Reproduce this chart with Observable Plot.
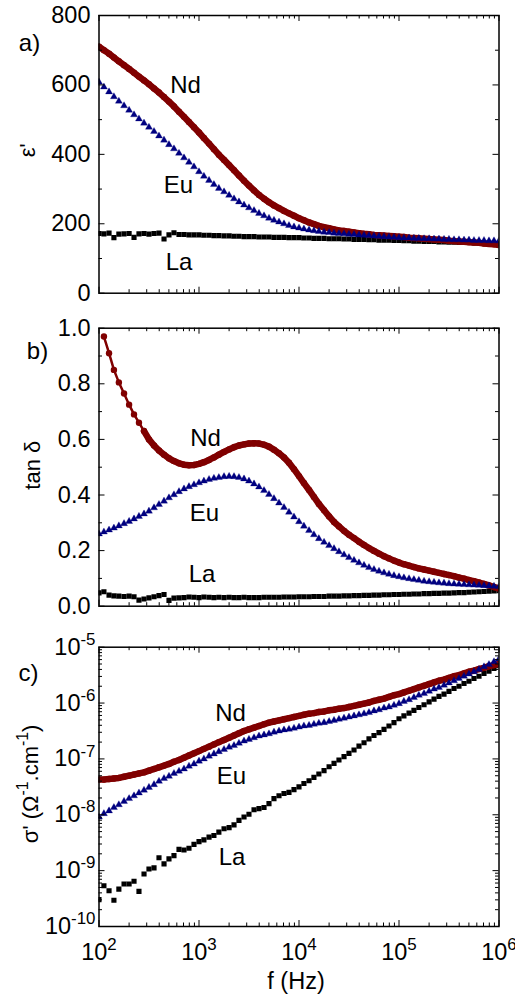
<!DOCTYPE html>
<html><head><meta charset="utf-8">
<script src="https://cdn.jsdelivr.net/npm/d3@7"></script>
<script src="https://cdn.jsdelivr.net/npm/@observablehq/plot@0.6"></script>
<style>
html,body{margin:0;padding:0;background:#fff;}
#chart{position:relative;width:515px;height:1003px;}
#chart svg{position:absolute;left:0;overflow:visible;}
</style></head><body><div id="chart"></div>
<script>
// ---------- data ----------
const freq = [
 100,112,126,141,158,178,200,224,251,282,316,355,398,447,501,562,631,708,794,891,
 1000,1120,1260,1410,1580,1780,2000,2240,2510,2820,3160,3550,3980,4470,5010,5620,6310,7080,7940,8910,
 1e4,1.12e4,1.26e4,1.41e4,1.58e4,1.78e4,2e4,2.24e4,2.51e4,2.82e4,3.16e4,3.55e4,3.98e4,4.47e4,5.01e4,5.62e4,6.31e4,7.08e4,7.94e4,8.91e4,
 1e5,1.12e5,1.26e5,1.41e5,1.58e5,1.78e5,2e5,2.24e5,2.51e5,2.82e5,3.16e5,3.55e5,3.98e5,4.47e5,5.01e5,5.62e5,6.31e5,7.08e5,7.94e5,8.91e5,
 1e6];

// a) epsilon'
const epsNd = [710,700,690,679,668,657,646,635,624,613,
 602,590,578,565,552,538,523,508,493,478,
 463,447,431,415,399,384,369,354,339,324,
 310,296,283,272,262,253,245,237,230,223,
 216,210,204,199,194,190,187,184,181,179,
 177,175,173,171,170,168,167,166,165,164,
 163,162,160,159,158,157,156,155,154,153,
 151,150,149,148,147,146,145,143,142,141,139];
const epsEu = [608,594,580,566,553,540,527,514,502,490,
 478,466,453,441,428,416,403,390,377,364,
 350,337,325,313,302,292,282,272,263,254,
 246,238,230,223,216,210,205,200,195,191,
 188,185,182,180,178,176,175,173,172,171,
 170,169,168,167,166,165,164,163,162,161,
 160,159,159,158,158,157,157,156,156,155,
 155,154,154,153,153,152,152,152,151,151,151];
const epsLa = [172,171,173,160,170,171,172,161,171,172,
 170,172,173,156,168,174,169,169,168,168,
 168,167,167,166,166,165,165,164,164,163,
 163,163,162,162,162,161,161,161,160,160,
 160,159,159,158,158,158,157,157,157,156,
 156,155,155,155,154,154,153,153,153,152,
 152,151,151,150,150,149,149,149,148,148,
 147,147,146,146,146,145,145,144,144,143,143];

// b) tan delta
const tanNd = [1.02,0.97,0.91,0.85,0.805,0.765,0.725,0.69,0.66,0.63,
 0.60,0.578,0.56,0.545,0.532,0.522,0.514,0.509,0.507,0.508,
 0.512,0.518,0.526,0.535,0.545,0.555,0.564,0.572,0.578,0.582,
 0.585,0.586,0.585,0.581,0.574,0.563,0.55,0.535,0.516,0.493,
 0.468,0.443,0.418,0.393,0.368,0.345,0.323,0.303,0.287,0.271,
 0.257,0.245,0.232,0.220,0.209,0.199,0.189,0.180,0.172,0.164,
 0.157,0.151,0.146,0.141,0.136,0.132,0.128,0.124,0.120,0.116,
 0.112,0.108,0.103,0.099,0.094,0.090,0.085,0.080,0.075,0.069,0.064];
const tanEu = [0.260,0.267,0.274,0.281,0.289,0.297,0.305,0.314,0.323,0.332,
 0.342,0.354,0.366,0.378,0.390,0.401,0.412,0.422,0.430,0.437,
 0.444,0.450,0.456,0.460,0.463,0.466,0.467,0.466,0.463,0.458,
 0.450,0.440,0.429,0.416,0.402,0.387,0.371,0.355,0.338,0.321,
 0.304,0.288,0.272,0.257,0.243,0.230,0.218,0.207,0.196,0.185,
 0.175,0.165,0.156,0.147,0.139,0.132,0.126,0.120,0.115,0.110,
 0.106,0.102,0.099,0.096,0.093,0.090,0.088,0.086,0.084,0.083,
 0.081,0.080,0.079,0.078,0.077,0.076,0.075,0.074,0.073,0.072,0.071];
const tanLa = [0.048,0.052,0.040,0.037,0.036,0.035,0.036,0.034,0.022,0.026,
 0.030,0.034,0.038,0.042,0.021,0.029,0.030,0.031,0.033,0.032,
 0.031,0.033,0.032,0.031,0.032,0.031,0.032,0.031,0.031,0.032,
 0.031,0.031,0.031,0.032,0.032,0.032,0.032,0.033,0.033,0.033,
 0.034,0.034,0.034,0.035,0.035,0.035,0.036,0.036,0.036,0.037,
 0.037,0.038,0.038,0.039,0.039,0.040,0.040,0.041,0.041,0.042,
 0.042,0.043,0.043,0.044,0.044,0.045,0.045,0.046,0.046,0.047,
 0.047,0.048,0.049,0.049,0.050,0.051,0.052,0.053,0.054,0.055,0.056];

// c) sigma' (log10 of Ohm^-1 cm^-1)
const sigNdLog = [-7.37,-7.37,-7.36,-7.35,-7.34,-7.32,-7.30,-7.28,-7.26,-7.24,
 -7.21,-7.18,-7.15,-7.12,-7.09,-7.05,-7.02,-6.98,-6.94,-6.90,
 -6.86,-6.82,-6.78,-6.74,-6.70,-6.66,-6.62,-6.58,-6.54,-6.50,
 -6.47,-6.44,-6.41,-6.38,-6.35,-6.33,-6.31,-6.29,-6.27,-6.25,
 -6.23,-6.21,-6.19,-6.18,-6.16,-6.15,-6.13,-6.12,-6.10,-6.09,
 -6.07,-6.05,-6.03,-6.01,-5.99,-5.96,-5.94,-5.92,-5.89,-5.86,
 -5.84,-5.81,-5.78,-5.75,-5.72,-5.69,-5.66,-5.63,-5.60,-5.58,
 -5.55,-5.52,-5.50,-5.47,-5.44,-5.42,-5.39,-5.37,-5.34,-5.32,-5.30];
const sigEuLog = [-8.04,-7.98,-7.93,-7.87,-7.82,-7.76,-7.71,-7.66,-7.61,-7.56,
 -7.51,-7.46,-7.40,-7.35,-7.31,-7.26,-7.22,-7.18,-7.13,-7.09,
 -7.04,-7.00,-6.95,-6.91,-6.87,-6.83,-6.79,-6.76,-6.72,-6.68,
 -6.65,-6.62,-6.59,-6.57,-6.55,-6.52,-6.50,-6.48,-6.47,-6.45,
 -6.43,-6.41,-6.40,-6.38,-6.36,-6.35,-6.33,-6.31,-6.29,-6.27,
 -6.25,-6.23,-6.21,-6.19,-6.17,-6.14,-6.12,-6.09,-6.07,-6.04,
 -6.01,-5.97,-5.94,-5.90,-5.86,-5.83,-5.79,-5.75,-5.72,-5.68,
 -5.64,-5.60,-5.56,-5.52,-5.48,-5.44,-5.40,-5.35,-5.31,-5.26,-5.21];
const sigLaLog = [-9.52,-9.27,-9.36,-9.53,-9.33,-9.24,-9.24,-9.19,-9.37,-9.06,
 -8.97,-8.95,-8.77,-8.88,-8.79,-8.73,-8.62,-8.63,-8.60,-8.53,
 -8.48,-8.45,-8.40,-8.37,-8.31,-8.25,-8.23,-8.18,-8.10,-8.04,
 -7.99,-7.91,-7.89,-7.87,-7.80,-7.71,-7.66,-7.62,-7.60,-7.55,
 -7.50,-7.44,-7.39,-7.33,-7.27,-7.21,-7.14,-7.08,-7.02,-6.96,
 -6.90,-6.84,-6.77,-6.71,-6.64,-6.58,-6.53,-6.47,-6.41,-6.35,
 -6.28,-6.23,-6.18,-6.13,-6.08,-6.03,-5.98,-5.93,-5.88,-5.84,
 -5.79,-5.74,-5.70,-5.65,-5.61,-5.56,-5.52,-5.47,-5.43,-5.38,-5.33];

// ticks and labels
const xMajor = [1e2, 1e3, 1e4, 1e5, 1e6];
const xLabels = ["10^{2}", "10^{3}", "10^{4}", "10^{5}", "10^{6}"];
const mantissas = [2, 3, 4, 5, 6, 7, 8, 9];
const xMinor = [1e2, 1e3, 1e4, 1e5].flatMap(d => mantissas.map(m => m * d));
const yMajorA = [0, 200, 400, 600, 800];
const yMinorA = [100, 300, 500, 700];
const yMajorB = [0, 0.2, 0.4, 0.6, 0.8, 1.0];
const yLabelsB = ["0.0", "0.2", "0.4", "0.6", "0.8", "1.0"];
const yMinorB = [0.1, 0.3, 0.5, 0.7, 0.9];
const yMajorC = [1e-10, 1e-9, 1e-8, 1e-7, 1e-6, 1e-5];
const yLabelsC = ["10^{-10}", "10^{-9}", "10^{-8}", "10^{-7}", "10^{-6}", "10^{-5}"];
const yMinorC = [1e-10, 1e-9, 1e-8, 1e-7, 1e-6].flatMap(d => mantissas.map(m => m * d));

const annA = [{t: "Nd", f: 733, v: 599}, {t: "Eu", f: 624, v: 312}, {t: "La", f: 631, v: 90}];
const annB = [{t: "Nd", f: 1161, v: 0.605}, {t: "Eu", f: 1135, v: 0.335}, {t: "La", f: 1072, v: 0.114}];
const annC = [{t: "Nd", f: 2065, v: 6.6e-7}, {t: "Eu", f: 2113, v: 4.8e-8}, {t: "La", f: 2138, v: 1.7e-9}];

// ---------- drawing ----------
const ND = "#800000", EU = "#000080", LA = "#000000";
const FONT = '"Liberation Sans", Arial, Helvetica, sans-serif';
const W = 515, ML = 98.5, MR = 16.5, PW = W - ML - MR;
const rows = (ys, tf = v => v) => freq.map((f, i) => ({f, v: tf(ys[i]), i}));
const lab = (ticks, labels) => d => labels[ticks.indexOf(d)];

function frameTicks(plotH, yMajor, yMinor) {
  const maj = 6, mnr = 3.5;
  return [
    Plot.ruleX(xMajor, {insetTop: plotH - maj}),
    Plot.ruleX(xMajor, {insetBottom: plotH - maj}),
    Plot.ruleX(xMinor, {insetTop: plotH - mnr}),
    Plot.ruleX(xMinor, {insetBottom: plotH - mnr}),
    Plot.ruleY(yMajor, {insetRight: PW - maj}),
    Plot.ruleY(yMajor, {insetLeft: PW - maj}),
    Plot.ruleY(yMinor, {insetRight: PW - mnr}),
    Plot.ruleY(yMinor, {insetLeft: PW - mnr}),
    Plot.frame({stroke: "black", strokeWidth: 1.5})
  ];
}
function series(nd, eu, la, ndLineFrom = 0) {
  return [
    Plot.dot(la, {x: "f", y: "v", symbol: "square", r: 2.9, fill: LA, clip: true}),
    Plot.line(nd.filter(d => d.i >= 1 && d.i <= ndLineFrom), {x: "f", y: "v", stroke: ND, strokeWidth: 2.5, clip: true}),
    Plot.line(nd.filter(d => d.i >= ndLineFrom), {x: "f", y: "v", stroke: ND, strokeWidth: 6.5, clip: true}),
    Plot.dot(nd, {x: "f", y: "v", r: 3.2, fill: ND, clip: true}),
    Plot.dot(eu, {x: "f", y: "v", symbol: "triangle", r: 2.6, fill: EU, stroke: EU, strokeOpacity: 0.35, strokeWidth: 0.8, clip: true})
  ];
}
const annText = (ann) => Plot.text(ann, {x: "f", y: "v", text: "t", fontSize: 24, fill: "black"});

const style = {fontFamily: FONT, fontSize: "22px", background: "transparent", overflow: "visible", color: "black"};
const chart = document.getElementById("chart");

function place(svg, top) { svg.style.top = top + "px"; chart.appendChild(svg); supify(svg); }

function supify(svg) {
  const ns = "http://www.w3.org/2000/svg";
  svg.querySelectorAll("text").forEach(t => {
    const s = t.textContent;
    if (!s.includes("^{")) return;
    const fs = parseFloat(getComputedStyle(t).fontSize) || 22;
    while (t.firstChild) t.removeChild(t.firstChild);
    const re = /\^\{([^}]*)\}/g;
    let last = 0, m, raised = false;
    const shift = 0.42 * fs;
    const add = (txt, sup) => {
      if (!txt) return;
      const sp = document.createElementNS(ns, "tspan");
      if (sup) { sp.setAttribute("font-size", (0.72 * fs) + "px"); sp.setAttribute("dy", -shift); raised = true; }
      else if (raised) { sp.setAttribute("dy", shift); raised = false; }
      sp.textContent = txt;
      t.appendChild(sp);
    };
    while ((m = re.exec(s))) { add(s.slice(last, m.index), false); add(m[1], true); last = re.lastIndex; }
    add(s.slice(last), false);
  });
}

// Panel a
{
  const H = 310, MT = 15, MB = H - 292.7, PH = H - MT - MB;
  const svg = Plot.plot({
    width: W, height: H, marginLeft: ML, marginRight: MR, marginTop: MT, marginBottom: MB,
    style,
    x: {type: "log", domain: [1e2, 1e6], axis: null},
    y: {domain: [0, 800]},
    marks: [
      ...series(rows(epsNd), rows(epsEu), rows(epsLa)),
      ...frameTicks(PH, yMajorA, yMinorA),
      Plot.axisY({anchor: "left", ticks: yMajorA, tickSize: 0, tickPadding: 8.5, fontSize: 23.5, label: null}),
      annText(annA),
      Plot.text(["a)"], {frameAnchor: "top-left", dx: -69.5, dy: 18, fontSize: 24, textAnchor: "middle"}),
      Plot.text(["ε'"], {frameAnchor: "left", dx: -71.5, dy: -4, rotate: -90, fontSize: 22, textAnchor: "middle"})
    ]
  });
  place(svg, 0);
}
// Panel b
{
  const H = 315, MT = 17.7, MB = 625 - 605.7, PH = H - MT - MB;
  const svg = Plot.plot({
    width: W, height: H, marginLeft: ML, marginRight: MR, marginTop: MT, marginBottom: MB,
    style,
    x: {type: "log", domain: [1e2, 1e6], axis: null},
    y: {domain: [0, 1]},
    marks: [
      ...series(rows(tanNd), rows(tanEu), rows(tanLa), 9),
      ...frameTicks(PH, yMajorB, yMinorB),
      Plot.axisY({anchor: "left", ticks: yMajorB, tickFormat: lab(yMajorB, yLabelsB), tickSize: 0, tickPadding: 8.5, fontSize: 23.5, label: null}),
      annText(annB),
      Plot.text(["b)"], {frameAnchor: "top-left", dx: -61.5, dy: 13.3, fontSize: 24, textAnchor: "middle"}),
      Plot.text(["tan δ"], {frameAnchor: "left", dx: -66.5, dy: -2, rotate: -90, fontSize: 22, textAnchor: "middle"})
    ]
  });
  place(svg, 310);
}
// Panel c
{
  const H = 378, MT = 21.7, MB = 625 + 378 - 926, PH = H - MT - MB;
  const svg = Plot.plot({
    width: W, height: H, marginLeft: ML, marginRight: MR, marginTop: MT, marginBottom: MB,
    style,
    x: {type: "log", domain: [1e2, 1e6]},
    y: {type: "log", domain: [1e-10, 1e-5]},
    marks: [
      ...series(rows(sigNdLog, v => 10 ** v), rows(sigEuLog, v => 10 ** v), rows(sigLaLog, v => 10 ** v)),
      ...frameTicks(PH, yMajorC, yMinorC),
      Plot.axisY({anchor: "left", ticks: yMajorC, tickFormat: lab(yMajorC, yLabelsC), tickSize: 0, tickPadding: 3.5, fontSize: 23.5, label: null}),
      Plot.axisX({anchor: "bottom", ticks: xMajor, tickFormat: lab(xMajor, xLabels), tickSize: 0, tickPadding: 17, fontSize: 23.5, label: null}),
      annText(annC),
      Plot.text(["c)"], {frameAnchor: "top-left", dx: -70.5, dy: 16.3, fontSize: 24, textAnchor: "middle"}),
      Plot.text(["σ' (Ω^{-1}.cm^{-1})"], {frameAnchor: "left", dx: -68.5, dy: -3, rotate: -90, fontSize: 22, textAnchor: "middle"}),
      Plot.text(["f (Hz)"], {frameAnchor: "bottom", dx: -3, dy: 62, fontSize: 23.5, textAnchor: "middle"})
    ]
  });
  place(svg, 625);
}
</script></body></html>
